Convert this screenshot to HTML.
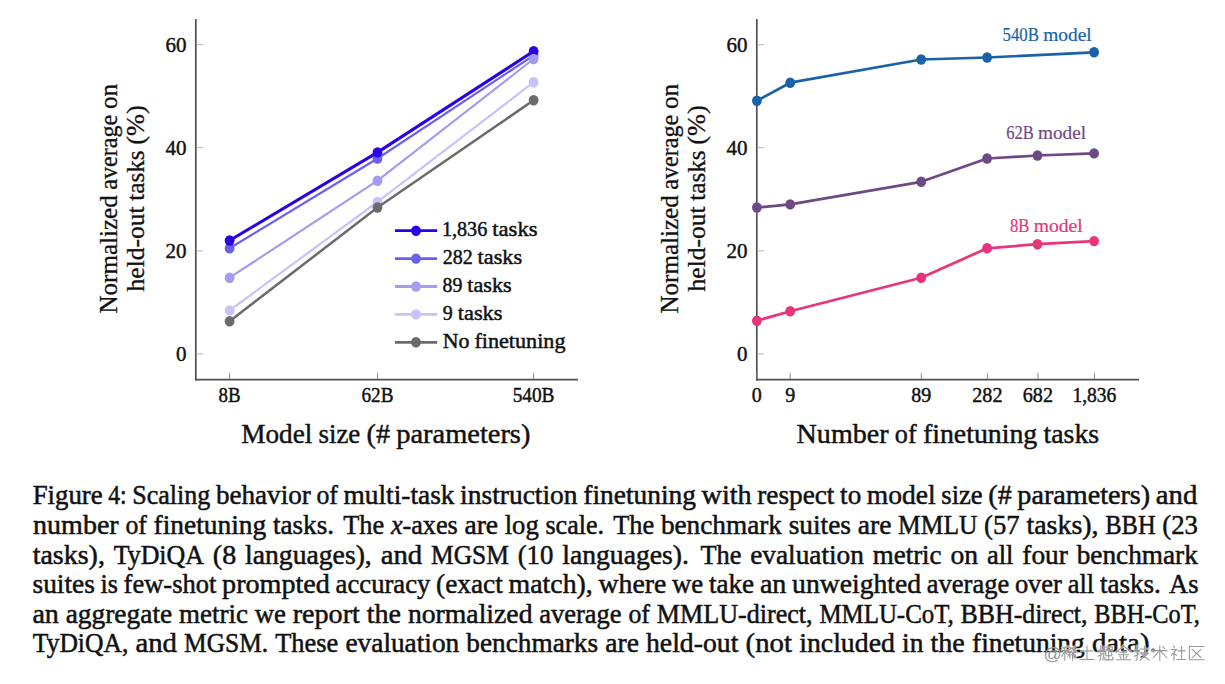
<!DOCTYPE html>
<html><head><meta charset="utf-8"><style>html,body{margin:0;padding:0;background:#fff;width:1225px;height:684px;overflow:hidden}svg{display:block}</style></head><body>
<svg width="1225" height="684" viewBox="0 0 1225 684" font-family="Liberation Serif, serif">
<rect width="1225" height="684" fill="#fff"/>
<line x1="195.8" y1="19" x2="195.8" y2="380.5" stroke="#505050" stroke-width="1.7"/>
<line x1="195" y1="379.7" x2="578" y2="379.7" stroke="#505050" stroke-width="1.7"/>
<line x1="196.5" y1="44.6" x2="203" y2="44.6" stroke="#b0b0b0" stroke-width="0.9"/>
<text x="186.5" y="51.7" font-size="21.50" text-anchor="end" fill="#111" stroke="#111" stroke-width="0.45" textLength="21.0" lengthAdjust="spacingAndGlyphs" >60</text>
<line x1="196.5" y1="147.7" x2="203" y2="147.7" stroke="#b0b0b0" stroke-width="0.9"/>
<text x="186.5" y="154.8" font-size="21.50" text-anchor="end" fill="#111" stroke="#111" stroke-width="0.45" textLength="21.0" lengthAdjust="spacingAndGlyphs" >40</text>
<line x1="196.5" y1="250.9" x2="203" y2="250.9" stroke="#b0b0b0" stroke-width="0.9"/>
<text x="186.5" y="258.0" font-size="21.50" text-anchor="end" fill="#111" stroke="#111" stroke-width="0.45" textLength="21.0" lengthAdjust="spacingAndGlyphs" >20</text>
<line x1="196.5" y1="354.0" x2="203" y2="354.0" stroke="#b0b0b0" stroke-width="0.9"/>
<text x="186.5" y="361.1" font-size="21.50" text-anchor="end" fill="#111" stroke="#111" stroke-width="0.45" textLength="10.5" lengthAdjust="spacingAndGlyphs" >0</text>
<line x1="229.6" y1="372.8" x2="229.6" y2="379" stroke="#808080" stroke-width="0.9"/>
<text x="229.6" y="401.6" font-size="21.50" text-anchor="middle" fill="#111" stroke="#111" stroke-width="0.45" textLength="22.0" lengthAdjust="spacingAndGlyphs" >8B</text>
<line x1="377.5" y1="372.8" x2="377.5" y2="379" stroke="#808080" stroke-width="0.9"/>
<text x="377.5" y="401.6" font-size="21.50" text-anchor="middle" fill="#111" stroke="#111" stroke-width="0.45" textLength="32.0" lengthAdjust="spacingAndGlyphs" >62B</text>
<line x1="533.6" y1="372.8" x2="533.6" y2="379" stroke="#808080" stroke-width="0.9"/>
<text x="533.6" y="401.6" font-size="21.50" text-anchor="middle" fill="#111" stroke="#111" stroke-width="0.45" textLength="41.8" lengthAdjust="spacingAndGlyphs" >540B</text>
<g transform="translate(116.8,0) rotate(-90)">
<text x="-313.5" y="0.0" font-size="24.40" fill="#111" stroke="#111" stroke-width="0.3" textLength="118.2" lengthAdjust="spacingAndGlyphs">Normalized</text>
<text x="-189.7" y="0.0" font-size="24.40" fill="#111" stroke="#111" stroke-width="0.3" textLength="75.0" lengthAdjust="spacingAndGlyphs">average</text>
<text x="-109.1" y="0.0" font-size="24.40" fill="#111" stroke="#111" stroke-width="0.3" textLength="25.1" lengthAdjust="spacingAndGlyphs">on</text>
</g>
<g transform="translate(144.0,0) rotate(-90)">
<text x="-291.4" y="0.0" font-size="24.40" fill="#111" stroke="#111" stroke-width="0.3" textLength="85.0" lengthAdjust="spacingAndGlyphs">held-out</text>
<text x="-200.8" y="0.0" font-size="24.40" fill="#111" stroke="#111" stroke-width="0.3" textLength="50.5" lengthAdjust="spacingAndGlyphs">tasks</text>
<text x="-144.7" y="0.0" font-size="24.40" fill="#111" stroke="#111" stroke-width="0.3" textLength="39.5" lengthAdjust="spacingAndGlyphs">(%)</text>
</g>
<path d="M229.6,248.3 L377.5,158.5 L533.6,55.4" fill="none" stroke="#6a60f0" stroke-width="2.2" stroke-linejoin="round"/>
<ellipse cx="229.6" cy="248.3" rx="4.9" ry="5.2" fill="#6a60f0"/>
<ellipse cx="377.5" cy="158.5" rx="4.9" ry="5.2" fill="#6a60f0"/>
<ellipse cx="533.6" cy="55.4" rx="4.9" ry="5.2" fill="#6a60f0"/>
<path d="M229.6,240.5 L377.5,152.4 L533.6,51.3" fill="none" stroke="#2a00e6" stroke-width="3.1" stroke-linejoin="round"/>
<ellipse cx="229.6" cy="240.5" rx="4.9" ry="5.2" fill="#2a00e6"/>
<ellipse cx="377.5" cy="152.4" rx="4.9" ry="5.2" fill="#2a00e6"/>
<ellipse cx="533.6" cy="51.3" rx="4.9" ry="5.2" fill="#2a00e6"/>
<path d="M229.6,277.7 L377.5,180.7 L533.6,59.0" fill="none" stroke="#a29cf5" stroke-width="2.2" stroke-linejoin="round"/>
<ellipse cx="229.6" cy="277.7" rx="4.9" ry="5.2" fill="#a29cf5"/>
<ellipse cx="377.5" cy="180.7" rx="4.9" ry="5.2" fill="#a29cf5"/>
<ellipse cx="533.6" cy="59.0" rx="4.9" ry="5.2" fill="#a29cf5"/>
<path d="M229.6,310.4 L377.5,201.9 L533.6,82.2" fill="none" stroke="#c6c2fa" stroke-width="2.2" stroke-linejoin="round"/>
<ellipse cx="229.6" cy="310.4" rx="4.9" ry="5.2" fill="#c6c2fa"/>
<ellipse cx="377.5" cy="201.9" rx="4.9" ry="5.2" fill="#c6c2fa"/>
<ellipse cx="533.6" cy="82.2" rx="4.9" ry="5.2" fill="#c6c2fa"/>
<path d="M229.6,321.2 L377.5,207.5 L533.6,100.3" fill="none" stroke="#6b6b6b" stroke-width="2.5" stroke-linejoin="round"/>
<ellipse cx="229.6" cy="321.2" rx="4.9" ry="5.2" fill="#6b6b6b"/>
<ellipse cx="377.5" cy="207.5" rx="4.9" ry="5.2" fill="#6b6b6b"/>
<ellipse cx="533.6" cy="100.3" rx="4.9" ry="5.2" fill="#6b6b6b"/>
<line x1="394.9" y1="230.7" x2="437.2" y2="230.7" stroke="#2a00e6" stroke-width="2.8"/>
<ellipse cx="416" cy="230.7" rx="4.9" ry="5.2" fill="#2a00e6"/>
<text x="441.9" y="236.0" font-size="20.50" fill="#111" stroke="#111" stroke-width="0.45" textLength="45.4" lengthAdjust="spacingAndGlyphs">1,836</text>
<text x="492.3" y="236.0" font-size="20.50" fill="#111" stroke="#111" stroke-width="0.45" textLength="45.2" lengthAdjust="spacingAndGlyphs">tasks</text>
<line x1="394.9" y1="258.6" x2="437.2" y2="258.6" stroke="#6a60f0" stroke-width="2.8"/>
<ellipse cx="416" cy="258.6" rx="4.9" ry="5.2" fill="#6a60f0"/>
<text x="442.8" y="263.9" font-size="20.50" fill="#111" stroke="#111" stroke-width="0.45" textLength="29.9" lengthAdjust="spacingAndGlyphs">282</text>
<text x="477.6" y="263.9" font-size="20.50" fill="#111" stroke="#111" stroke-width="0.45" textLength="44.6" lengthAdjust="spacingAndGlyphs">tasks</text>
<line x1="394.9" y1="286.5" x2="437.2" y2="286.5" stroke="#a29cf5" stroke-width="2.8"/>
<ellipse cx="416" cy="286.5" rx="4.9" ry="5.2" fill="#a29cf5"/>
<text x="442.5" y="291.8" font-size="20.50" fill="#111" stroke="#111" stroke-width="0.45" textLength="19.8" lengthAdjust="spacingAndGlyphs">89</text>
<text x="467.3" y="291.8" font-size="20.50" fill="#111" stroke="#111" stroke-width="0.45" textLength="44.4" lengthAdjust="spacingAndGlyphs">tasks</text>
<line x1="394.9" y1="314.4" x2="437.2" y2="314.4" stroke="#c6c2fa" stroke-width="2.8"/>
<ellipse cx="416" cy="314.4" rx="4.9" ry="5.2" fill="#c6c2fa"/>
<text x="442.7" y="319.7" font-size="20.50" fill="#111" stroke="#111" stroke-width="0.45" textLength="10.0" lengthAdjust="spacingAndGlyphs">9</text>
<text x="457.7" y="319.7" font-size="20.50" fill="#111" stroke="#111" stroke-width="0.45" textLength="44.9" lengthAdjust="spacingAndGlyphs">tasks</text>
<line x1="394.9" y1="342.3" x2="437.2" y2="342.3" stroke="#6b6b6b" stroke-width="2.8"/>
<ellipse cx="416" cy="342.3" rx="4.9" ry="5.2" fill="#6b6b6b"/>
<text x="442.8" y="347.6" font-size="20.50" fill="#111" stroke="#111" stroke-width="0.45" textLength="26.7" lengthAdjust="spacingAndGlyphs">No</text>
<text x="474.4" y="347.6" font-size="20.50" fill="#111" stroke="#111" stroke-width="0.45" textLength="91.1" lengthAdjust="spacingAndGlyphs">finetuning</text>
<text x="241.3" y="443.0" font-size="27.00" fill="#111" stroke="#111" stroke-width="0.45" textLength="71.0" lengthAdjust="spacingAndGlyphs">Model</text>
<text x="318.5" y="443.0" font-size="27.00" fill="#111" stroke="#111" stroke-width="0.45" textLength="41.8" lengthAdjust="spacingAndGlyphs">size</text>
<text x="366.5" y="443.0" font-size="27.00" fill="#111" stroke="#111" stroke-width="0.45" textLength="23.6" lengthAdjust="spacingAndGlyphs">(#</text>
<text x="396.3" y="443.0" font-size="27.00" fill="#111" stroke="#111" stroke-width="0.45" textLength="134.1" lengthAdjust="spacingAndGlyphs">parameters)</text>
<line x1="756.8" y1="19" x2="756.8" y2="380.5" stroke="#505050" stroke-width="1.7"/>
<line x1="756" y1="379.7" x2="1139" y2="379.7" stroke="#505050" stroke-width="1.7"/>
<line x1="757.5" y1="44.6" x2="764" y2="44.6" stroke="#b0b0b0" stroke-width="0.9"/>
<text x="747.5" y="51.7" font-size="21.50" text-anchor="end" fill="#111" stroke="#111" stroke-width="0.45" textLength="21.0" lengthAdjust="spacingAndGlyphs" >60</text>
<line x1="757.5" y1="147.7" x2="764" y2="147.7" stroke="#b0b0b0" stroke-width="0.9"/>
<text x="747.5" y="154.8" font-size="21.50" text-anchor="end" fill="#111" stroke="#111" stroke-width="0.45" textLength="21.0" lengthAdjust="spacingAndGlyphs" >40</text>
<line x1="757.5" y1="250.9" x2="764" y2="250.9" stroke="#b0b0b0" stroke-width="0.9"/>
<text x="747.5" y="258.0" font-size="21.50" text-anchor="end" fill="#111" stroke="#111" stroke-width="0.45" textLength="21.0" lengthAdjust="spacingAndGlyphs" >20</text>
<line x1="757.5" y1="354.0" x2="764" y2="354.0" stroke="#b0b0b0" stroke-width="0.9"/>
<text x="747.5" y="361.1" font-size="21.50" text-anchor="end" fill="#111" stroke="#111" stroke-width="0.45" textLength="10.5" lengthAdjust="spacingAndGlyphs" >0</text>
<line x1="756.8" y1="372.8" x2="756.8" y2="379" stroke="#808080" stroke-width="0.9"/>
<text x="756.8" y="401.6" font-size="21.50" text-anchor="middle" fill="#111" stroke="#111" stroke-width="0.45" textLength="10.0" lengthAdjust="spacingAndGlyphs" >0</text>
<line x1="790.2" y1="372.8" x2="790.2" y2="379" stroke="#808080" stroke-width="0.9"/>
<text x="790.2" y="401.6" font-size="21.50" text-anchor="middle" fill="#111" stroke="#111" stroke-width="0.45" textLength="10.0" lengthAdjust="spacingAndGlyphs" >9</text>
<line x1="921.3" y1="372.8" x2="921.3" y2="379" stroke="#808080" stroke-width="0.9"/>
<text x="921.3" y="401.6" font-size="21.50" text-anchor="middle" fill="#111" stroke="#111" stroke-width="0.45" textLength="20.0" lengthAdjust="spacingAndGlyphs" >89</text>
<line x1="987.4" y1="372.8" x2="987.4" y2="379" stroke="#808080" stroke-width="0.9"/>
<text x="987.4" y="401.6" font-size="21.50" text-anchor="middle" fill="#111" stroke="#111" stroke-width="0.45" textLength="30.2" lengthAdjust="spacingAndGlyphs" >282</text>
<line x1="1037.9" y1="372.8" x2="1037.9" y2="379" stroke="#808080" stroke-width="0.9"/>
<text x="1037.9" y="401.6" font-size="21.50" text-anchor="middle" fill="#111" stroke="#111" stroke-width="0.45" textLength="30.2" lengthAdjust="spacingAndGlyphs" >682</text>
<line x1="1094.4" y1="372.8" x2="1094.4" y2="379" stroke="#808080" stroke-width="0.9"/>
<text x="1094.4" y="401.6" font-size="21.50" text-anchor="middle" fill="#111" stroke="#111" stroke-width="0.45" textLength="44.0" lengthAdjust="spacingAndGlyphs" >1,836</text>
<g transform="translate(677.8,0) rotate(-90)">
<text x="-313.5" y="0.0" font-size="24.40" fill="#111" stroke="#111" stroke-width="0.3" textLength="118.2" lengthAdjust="spacingAndGlyphs">Normalized</text>
<text x="-189.7" y="0.0" font-size="24.40" fill="#111" stroke="#111" stroke-width="0.3" textLength="75.0" lengthAdjust="spacingAndGlyphs">average</text>
<text x="-109.1" y="0.0" font-size="24.40" fill="#111" stroke="#111" stroke-width="0.3" textLength="25.1" lengthAdjust="spacingAndGlyphs">on</text>
</g>
<g transform="translate(705.0,0) rotate(-90)">
<text x="-291.4" y="0.0" font-size="24.40" fill="#111" stroke="#111" stroke-width="0.3" textLength="85.0" lengthAdjust="spacingAndGlyphs">held-out</text>
<text x="-200.8" y="0.0" font-size="24.40" fill="#111" stroke="#111" stroke-width="0.3" textLength="50.5" lengthAdjust="spacingAndGlyphs">tasks</text>
<text x="-144.7" y="0.0" font-size="24.40" fill="#111" stroke="#111" stroke-width="0.3" textLength="39.5" lengthAdjust="spacingAndGlyphs">(%)</text>
</g>
<path d="M756.9,100.8 L790.2,82.7 L921.2,59.5 L987.1,57.5 L1094.1,52.3" fill="none" stroke="#1a62a8" stroke-width="2.7" stroke-linejoin="round"/>
<ellipse cx="756.9" cy="100.8" rx="4.9" ry="5.2" fill="#1a62a8"/>
<ellipse cx="790.2" cy="82.7" rx="4.9" ry="5.2" fill="#1a62a8"/>
<ellipse cx="921.2" cy="59.5" rx="4.9" ry="5.2" fill="#1a62a8"/>
<ellipse cx="987.1" cy="57.5" rx="4.9" ry="5.2" fill="#1a62a8"/>
<ellipse cx="1094.1" cy="52.3" rx="4.9" ry="5.2" fill="#1a62a8"/>
<path d="M756.9,207.5 L790.2,204.4 L921.2,181.8 L987.1,158.5 L1037.5,155.5 L1094.1,153.4" fill="none" stroke="#6e4a85" stroke-width="2.7" stroke-linejoin="round"/>
<ellipse cx="756.9" cy="207.5" rx="4.9" ry="5.2" fill="#6e4a85"/>
<ellipse cx="790.2" cy="204.4" rx="4.9" ry="5.2" fill="#6e4a85"/>
<ellipse cx="921.2" cy="181.8" rx="4.9" ry="5.2" fill="#6e4a85"/>
<ellipse cx="987.1" cy="158.5" rx="4.9" ry="5.2" fill="#6e4a85"/>
<ellipse cx="1037.5" cy="155.5" rx="4.9" ry="5.2" fill="#6e4a85"/>
<ellipse cx="1094.1" cy="153.4" rx="4.9" ry="5.2" fill="#6e4a85"/>
<path d="M756.9,320.7 L790.2,311.2 L921.2,277.7 L987.1,248.3 L1037.5,244.2 L1094.1,241.1" fill="none" stroke="#e8347a" stroke-width="2.7" stroke-linejoin="round"/>
<ellipse cx="756.9" cy="320.7" rx="4.9" ry="5.2" fill="#e8347a"/>
<ellipse cx="790.2" cy="311.2" rx="4.9" ry="5.2" fill="#e8347a"/>
<ellipse cx="921.2" cy="277.7" rx="4.9" ry="5.2" fill="#e8347a"/>
<ellipse cx="987.1" cy="248.3" rx="4.9" ry="5.2" fill="#e8347a"/>
<ellipse cx="1037.5" cy="244.2" rx="4.9" ry="5.2" fill="#e8347a"/>
<ellipse cx="1094.1" cy="241.1" rx="4.9" ry="5.2" fill="#e8347a"/>
<text x="1002.5" y="40.8" font-size="18.50" fill="#1a62a8" stroke="#1a62a8" stroke-width="0.2" textLength="36.4" lengthAdjust="spacingAndGlyphs">540B</text>
<text x="1043.2" y="40.8" font-size="18.50" fill="#1a62a8" stroke="#1a62a8" stroke-width="0.2" textLength="48.5" lengthAdjust="spacingAndGlyphs">model</text>
<text x="1006.2" y="138.6" font-size="18.50" fill="#6e4a85" stroke="#6e4a85" stroke-width="0.2" textLength="27.6" lengthAdjust="spacingAndGlyphs">62B</text>
<text x="1038.0" y="138.6" font-size="18.50" fill="#6e4a85" stroke="#6e4a85" stroke-width="0.2" textLength="48.1" lengthAdjust="spacingAndGlyphs">model</text>
<text x="1010.0" y="231.6" font-size="18.50" fill="#e8347a" stroke="#e8347a" stroke-width="0.2" textLength="19.4" lengthAdjust="spacingAndGlyphs">8B</text>
<text x="1033.7" y="231.6" font-size="18.50" fill="#e8347a" stroke="#e8347a" stroke-width="0.2" textLength="49.0" lengthAdjust="spacingAndGlyphs">model</text>
<text x="796.6" y="443.0" font-size="27.00" fill="#111" stroke="#111" stroke-width="0.45" textLength="92.0" lengthAdjust="spacingAndGlyphs">Number</text>
<text x="894.8" y="443.0" font-size="27.00" fill="#111" stroke="#111" stroke-width="0.45" textLength="21.8" lengthAdjust="spacingAndGlyphs">of</text>
<text x="922.9" y="443.0" font-size="27.00" fill="#111" stroke="#111" stroke-width="0.45" textLength="114.4" lengthAdjust="spacingAndGlyphs">finetuning</text>
<text x="1043.5" y="443.0" font-size="27.00" fill="#111" stroke="#111" stroke-width="0.45" textLength="55.7" lengthAdjust="spacingAndGlyphs">tasks</text>
<text x="32.7" y="504.2" font-size="26.5" fill="#111" stroke="#111" stroke-width="0.5" textLength="70.0" lengthAdjust="spacingAndGlyphs">Figure</text>
<text x="108.3" y="504.2" font-size="26.5" fill="#111" stroke="#111" stroke-width="0.5" textLength="18.4" lengthAdjust="spacingAndGlyphs">4:</text>
<text x="132.2" y="504.2" font-size="26.5" fill="#111" stroke="#111" stroke-width="0.5" textLength="78.0" lengthAdjust="spacingAndGlyphs">Scaling</text>
<text x="215.9" y="504.2" font-size="26.5" fill="#111" stroke="#111" stroke-width="0.5" textLength="94.9" lengthAdjust="spacingAndGlyphs">behavior</text>
<text x="316.4" y="504.2" font-size="26.5" fill="#111" stroke="#111" stroke-width="0.5" textLength="21.5" lengthAdjust="spacingAndGlyphs">of</text>
<text x="343.5" y="504.2" font-size="26.5" fill="#111" stroke="#111" stroke-width="0.5" textLength="111.0" lengthAdjust="spacingAndGlyphs">multi-task</text>
<text x="460.1" y="504.2" font-size="26.5" fill="#111" stroke="#111" stroke-width="0.5" textLength="117.5" lengthAdjust="spacingAndGlyphs">instruction</text>
<text x="583.3" y="504.2" font-size="26.5" fill="#111" stroke="#111" stroke-width="0.5" textLength="112.7" lengthAdjust="spacingAndGlyphs">finetuning</text>
<text x="701.6" y="504.2" font-size="26.5" fill="#111" stroke="#111" stroke-width="0.5" textLength="50.1" lengthAdjust="spacingAndGlyphs">with</text>
<text x="757.3" y="504.2" font-size="26.5" fill="#111" stroke="#111" stroke-width="0.5" textLength="77.1" lengthAdjust="spacingAndGlyphs">respect</text>
<text x="840.1" y="504.2" font-size="26.5" fill="#111" stroke="#111" stroke-width="0.5" textLength="21.1" lengthAdjust="spacingAndGlyphs">to</text>
<text x="866.8" y="504.2" font-size="26.5" fill="#111" stroke="#111" stroke-width="0.5" textLength="68.8" lengthAdjust="spacingAndGlyphs">model</text>
<text x="941.3" y="504.2" font-size="26.5" fill="#111" stroke="#111" stroke-width="0.5" textLength="41.4" lengthAdjust="spacingAndGlyphs">size</text>
<text x="988.3" y="504.2" font-size="26.5" fill="#111" stroke="#111" stroke-width="0.5" textLength="23.4" lengthAdjust="spacingAndGlyphs">(#</text>
<text x="1017.3" y="504.2" font-size="26.5" fill="#111" stroke="#111" stroke-width="0.5" textLength="132.9" lengthAdjust="spacingAndGlyphs">parameters)</text>
<text x="1155.8" y="504.2" font-size="26.5" fill="#111" stroke="#111" stroke-width="0.5" textLength="41.5" lengthAdjust="spacingAndGlyphs">and</text>
<text x="33.1" y="533.8" font-size="26.5" fill="#111" stroke="#111" stroke-width="0.5" textLength="85.6" lengthAdjust="spacingAndGlyphs">number</text>
<text x="125.4" y="533.8" font-size="26.5" fill="#111" stroke="#111" stroke-width="0.5" textLength="21.5" lengthAdjust="spacingAndGlyphs">of</text>
<text x="153.6" y="533.8" font-size="26.5" fill="#111" stroke="#111" stroke-width="0.5" textLength="112.7" lengthAdjust="spacingAndGlyphs">finetuning</text>
<text x="273.0" y="533.8" font-size="26.5" fill="#111" stroke="#111" stroke-width="0.5" textLength="61.0" lengthAdjust="spacingAndGlyphs">tasks.</text>
<text x="343.2" y="533.8" font-size="26.5" fill="#111" stroke="#111" stroke-width="0.5" textLength="41.0" lengthAdjust="spacingAndGlyphs">The</text>
<text x="390.9" y="533.8" font-size="26.5" fill="#111" stroke="#111" stroke-width="0.5" textLength="66.8" lengthAdjust="spacingAndGlyphs"><tspan font-style="italic">x</tspan>-axes</text>
<text x="464.4" y="533.8" font-size="26.5" fill="#111" stroke="#111" stroke-width="0.5" textLength="33.7" lengthAdjust="spacingAndGlyphs">are</text>
<text x="504.7" y="533.8" font-size="26.5" fill="#111" stroke="#111" stroke-width="0.5" textLength="34.1" lengthAdjust="spacingAndGlyphs">log</text>
<text x="545.5" y="533.8" font-size="26.5" fill="#111" stroke="#111" stroke-width="0.5" textLength="58.5" lengthAdjust="spacingAndGlyphs">scale.</text>
<text x="613.2" y="533.8" font-size="26.5" fill="#111" stroke="#111" stroke-width="0.5" textLength="41.0" lengthAdjust="spacingAndGlyphs">The</text>
<text x="660.9" y="533.8" font-size="26.5" fill="#111" stroke="#111" stroke-width="0.5" textLength="121.1" lengthAdjust="spacingAndGlyphs">benchmark</text>
<text x="788.7" y="533.8" font-size="26.5" fill="#111" stroke="#111" stroke-width="0.5" textLength="62.3" lengthAdjust="spacingAndGlyphs">suites</text>
<text x="857.7" y="533.8" font-size="26.5" fill="#111" stroke="#111" stroke-width="0.5" textLength="33.7" lengthAdjust="spacingAndGlyphs">are</text>
<text x="898.1" y="533.8" font-size="26.5" fill="#111" stroke="#111" stroke-width="0.5" textLength="79.3" lengthAdjust="spacingAndGlyphs">MMLU</text>
<text x="984.0" y="533.8" font-size="26.5" fill="#111" stroke="#111" stroke-width="0.5" textLength="35.7" lengthAdjust="spacingAndGlyphs">(57</text>
<text x="1026.4" y="533.8" font-size="26.5" fill="#111" stroke="#111" stroke-width="0.5" textLength="72.2" lengthAdjust="spacingAndGlyphs">tasks),</text>
<text x="1105.3" y="533.8" font-size="26.5" fill="#111" stroke="#111" stroke-width="0.5" textLength="50.3" lengthAdjust="spacingAndGlyphs">BBH</text>
<text x="1162.3" y="533.8" font-size="26.5" fill="#111" stroke="#111" stroke-width="0.5" textLength="35.7" lengthAdjust="spacingAndGlyphs">(23</text>
<text x="32.7" y="563.5" font-size="26.5" fill="#111" stroke="#111" stroke-width="0.5" textLength="72.2" lengthAdjust="spacingAndGlyphs">tasks),</text>
<text x="113.7" y="563.5" font-size="26.5" fill="#111" stroke="#111" stroke-width="0.5" textLength="90.3" lengthAdjust="spacingAndGlyphs">TyDiQA</text>
<text x="212.8" y="563.5" font-size="26.5" fill="#111" stroke="#111" stroke-width="0.5" textLength="23.4" lengthAdjust="spacingAndGlyphs">(8</text>
<text x="245.0" y="563.5" font-size="26.5" fill="#111" stroke="#111" stroke-width="0.5" textLength="126.8" lengthAdjust="spacingAndGlyphs">languages),</text>
<text x="380.7" y="563.5" font-size="26.5" fill="#111" stroke="#111" stroke-width="0.5" textLength="41.5" lengthAdjust="spacingAndGlyphs">and</text>
<text x="431.0" y="563.5" font-size="26.5" fill="#111" stroke="#111" stroke-width="0.5" textLength="77.9" lengthAdjust="spacingAndGlyphs">MGSM</text>
<text x="517.7" y="563.5" font-size="26.5" fill="#111" stroke="#111" stroke-width="0.5" textLength="35.7" lengthAdjust="spacingAndGlyphs">(10</text>
<text x="562.2" y="563.5" font-size="26.5" fill="#111" stroke="#111" stroke-width="0.5" textLength="126.8" lengthAdjust="spacingAndGlyphs">languages).</text>
<text x="700.4" y="563.5" font-size="26.5" fill="#111" stroke="#111" stroke-width="0.5" textLength="41.0" lengthAdjust="spacingAndGlyphs">The</text>
<text x="750.2" y="563.5" font-size="26.5" fill="#111" stroke="#111" stroke-width="0.5" textLength="113.7" lengthAdjust="spacingAndGlyphs">evaluation</text>
<text x="872.7" y="563.5" font-size="26.5" fill="#111" stroke="#111" stroke-width="0.5" textLength="68.9" lengthAdjust="spacingAndGlyphs">metric</text>
<text x="950.5" y="563.5" font-size="26.5" fill="#111" stroke="#111" stroke-width="0.5" textLength="27.6" lengthAdjust="spacingAndGlyphs">on</text>
<text x="987.0" y="563.5" font-size="26.5" fill="#111" stroke="#111" stroke-width="0.5" textLength="26.5" lengthAdjust="spacingAndGlyphs">all</text>
<text x="1022.3" y="563.5" font-size="26.5" fill="#111" stroke="#111" stroke-width="0.5" textLength="45.6" lengthAdjust="spacingAndGlyphs">four</text>
<text x="1076.7" y="563.5" font-size="26.5" fill="#111" stroke="#111" stroke-width="0.5" textLength="121.1" lengthAdjust="spacingAndGlyphs">benchmark</text>
<text x="32.5" y="593.1" font-size="26.5" fill="#111" stroke="#111" stroke-width="0.5" textLength="62.3" lengthAdjust="spacingAndGlyphs">suites</text>
<text x="100.5" y="593.1" font-size="26.5" fill="#111" stroke="#111" stroke-width="0.5" textLength="17.4" lengthAdjust="spacingAndGlyphs">is</text>
<text x="123.6" y="593.1" font-size="26.5" fill="#111" stroke="#111" stroke-width="0.5" textLength="92.8" lengthAdjust="spacingAndGlyphs">few-shot</text>
<text x="222.1" y="593.1" font-size="26.5" fill="#111" stroke="#111" stroke-width="0.5" textLength="107.8" lengthAdjust="spacingAndGlyphs">prompted</text>
<text x="335.6" y="593.1" font-size="26.5" fill="#111" stroke="#111" stroke-width="0.5" textLength="94.8" lengthAdjust="spacingAndGlyphs">accuracy</text>
<text x="436.1" y="593.1" font-size="26.5" fill="#111" stroke="#111" stroke-width="0.5" textLength="66.7" lengthAdjust="spacingAndGlyphs">(exact</text>
<text x="508.5" y="593.1" font-size="26.5" fill="#111" stroke="#111" stroke-width="0.5" textLength="84.3" lengthAdjust="spacingAndGlyphs">match),</text>
<text x="598.5" y="593.1" font-size="26.5" fill="#111" stroke="#111" stroke-width="0.5" textLength="67.8" lengthAdjust="spacingAndGlyphs">where</text>
<text x="672.0" y="593.1" font-size="26.5" fill="#111" stroke="#111" stroke-width="0.5" textLength="31.2" lengthAdjust="spacingAndGlyphs">we</text>
<text x="708.9" y="593.1" font-size="26.5" fill="#111" stroke="#111" stroke-width="0.5" textLength="45.3" lengthAdjust="spacingAndGlyphs">take</text>
<text x="759.9" y="593.1" font-size="26.5" fill="#111" stroke="#111" stroke-width="0.5" textLength="26.5" lengthAdjust="spacingAndGlyphs">an</text>
<text x="792.1" y="593.1" font-size="26.5" fill="#111" stroke="#111" stroke-width="0.5" textLength="129.0" lengthAdjust="spacingAndGlyphs">unweighted</text>
<text x="926.8" y="593.1" font-size="26.5" fill="#111" stroke="#111" stroke-width="0.5" textLength="82.4" lengthAdjust="spacingAndGlyphs">average</text>
<text x="1014.9" y="593.1" font-size="26.5" fill="#111" stroke="#111" stroke-width="0.5" textLength="47.0" lengthAdjust="spacingAndGlyphs">over</text>
<text x="1067.7" y="593.1" font-size="26.5" fill="#111" stroke="#111" stroke-width="0.5" textLength="26.5" lengthAdjust="spacingAndGlyphs">all</text>
<text x="1099.9" y="593.1" font-size="26.5" fill="#111" stroke="#111" stroke-width="0.5" textLength="61.0" lengthAdjust="spacingAndGlyphs">tasks.</text>
<text x="1169.1" y="593.1" font-size="26.5" fill="#111" stroke="#111" stroke-width="0.5" textLength="29.4" lengthAdjust="spacingAndGlyphs">As</text>
<text x="32.4" y="622.7" font-size="26.5" fill="#111" stroke="#111" stroke-width="0.5" textLength="26.5" lengthAdjust="spacingAndGlyphs">an</text>
<text x="65.7" y="622.7" font-size="26.5" fill="#111" stroke="#111" stroke-width="0.5" textLength="106.5" lengthAdjust="spacingAndGlyphs">aggregate</text>
<text x="179.0" y="622.7" font-size="26.5" fill="#111" stroke="#111" stroke-width="0.5" textLength="68.9" lengthAdjust="spacingAndGlyphs">metric</text>
<text x="254.8" y="622.7" font-size="26.5" fill="#111" stroke="#111" stroke-width="0.5" textLength="31.2" lengthAdjust="spacingAndGlyphs">we</text>
<text x="292.7" y="622.7" font-size="26.5" fill="#111" stroke="#111" stroke-width="0.5" textLength="67.2" lengthAdjust="spacingAndGlyphs">report</text>
<text x="366.7" y="622.7" font-size="26.5" fill="#111" stroke="#111" stroke-width="0.5" textLength="34.3" lengthAdjust="spacingAndGlyphs">the</text>
<text x="407.9" y="622.7" font-size="26.5" fill="#111" stroke="#111" stroke-width="0.5" textLength="124.6" lengthAdjust="spacingAndGlyphs">normalized</text>
<text x="539.2" y="622.7" font-size="26.5" fill="#111" stroke="#111" stroke-width="0.5" textLength="82.4" lengthAdjust="spacingAndGlyphs">average</text>
<text x="628.4" y="622.7" font-size="26.5" fill="#111" stroke="#111" stroke-width="0.5" textLength="21.5" lengthAdjust="spacingAndGlyphs">of</text>
<text x="656.8" y="622.7" font-size="26.5" fill="#111" stroke="#111" stroke-width="0.5" textLength="155.8" lengthAdjust="spacingAndGlyphs">MMLU-direct,</text>
<text x="819.4" y="622.7" font-size="26.5" fill="#111" stroke="#111" stroke-width="0.5" textLength="134.4" lengthAdjust="spacingAndGlyphs">MMLU-CoT,</text>
<text x="960.6" y="622.7" font-size="26.5" fill="#111" stroke="#111" stroke-width="0.5" textLength="126.9" lengthAdjust="spacingAndGlyphs">BBH-direct,</text>
<text x="1094.3" y="622.7" font-size="26.5" fill="#111" stroke="#111" stroke-width="0.5" textLength="105.5" lengthAdjust="spacingAndGlyphs">BBH-CoT,</text>
<text x="32.8" y="652.3" font-size="26.5" fill="#111" stroke="#111" stroke-width="0.5" textLength="95.5" lengthAdjust="spacingAndGlyphs">TyDiQA,</text>
<text x="135.4" y="652.3" font-size="26.5" fill="#111" stroke="#111" stroke-width="0.5" textLength="41.5" lengthAdjust="spacingAndGlyphs">and</text>
<text x="184.1" y="652.3" font-size="26.5" fill="#111" stroke="#111" stroke-width="0.5" textLength="84.0" lengthAdjust="spacingAndGlyphs">MGSM.</text>
<text x="275.2" y="652.3" font-size="26.5" fill="#111" stroke="#111" stroke-width="0.5" textLength="63.1" lengthAdjust="spacingAndGlyphs">These</text>
<text x="345.5" y="652.3" font-size="26.5" fill="#111" stroke="#111" stroke-width="0.5" textLength="113.7" lengthAdjust="spacingAndGlyphs">evaluation</text>
<text x="466.3" y="652.3" font-size="26.5" fill="#111" stroke="#111" stroke-width="0.5" textLength="131.8" lengthAdjust="spacingAndGlyphs">benchmarks</text>
<text x="605.2" y="652.3" font-size="26.5" fill="#111" stroke="#111" stroke-width="0.5" textLength="33.7" lengthAdjust="spacingAndGlyphs">are</text>
<text x="646.0" y="652.3" font-size="26.5" fill="#111" stroke="#111" stroke-width="0.5" textLength="92.4" lengthAdjust="spacingAndGlyphs">held-out</text>
<text x="745.6" y="652.3" font-size="26.5" fill="#111" stroke="#111" stroke-width="0.5" textLength="46.4" lengthAdjust="spacingAndGlyphs">(not</text>
<text x="799.2" y="652.3" font-size="26.5" fill="#111" stroke="#111" stroke-width="0.5" textLength="95.7" lengthAdjust="spacingAndGlyphs">included</text>
<text x="902.1" y="652.3" font-size="26.5" fill="#111" stroke="#111" stroke-width="0.5" textLength="21.3" lengthAdjust="spacingAndGlyphs">in</text>
<text x="930.5" y="652.3" font-size="26.5" fill="#111" stroke="#111" stroke-width="0.5" textLength="34.3" lengthAdjust="spacingAndGlyphs">the</text>
<text x="972.0" y="652.3" font-size="26.5" fill="#111" stroke="#111" stroke-width="0.5" textLength="112.7" lengthAdjust="spacingAndGlyphs">finetuning</text>
<text x="1091.9" y="652.3" font-size="26.5" fill="#111" stroke="#111" stroke-width="0.5" textLength="64.8" lengthAdjust="spacingAndGlyphs">data).</text>
<g fill="none" stroke-linecap="square">
<path transform="translate(1061.3,645.5) scale(1,0.98)" d="M1,2.5L6,1.5 M0.5,5L6,5 M3.5,1.5L3.5,15 M3.2,6L0.5,11 M3.8,6.5L6,9 M7,1L14,5 M14,1L7,5 M6.5,7L15,7 M10,5.5L6.5,11 M8.5,9.5L14,9.5L14,13 M8.5,9.5L8.5,13 M11.2,8L11.2,15" stroke="#ffffff" stroke-width="2.8" opacity="0.6"/>
<path transform="translate(1079.5,645.5) scale(1,0.98)" d="M2,5.5L13,5.5 M7.5,0.5L7.5,14 M0.5,14.3L14.5,14.3" stroke="#ffffff" stroke-width="2.8" opacity="0.6"/>
<path transform="translate(1097.7,645.5) scale(1,0.98)" d="M0.5,5L5,5 M3,0.5L3,14 L2,15 M0.5,11L5,8.5 M6.2,1.5L14.5,1.5L14.5,4.5L6.2,4.5 M6.2,1.5L6.2,9 L5.2,15 M8,7.5L8,10.5L14,10.5L14,7.5 M11,5.5L11,14.5 M7.2,12L7.2,14.7L15,14.7L15,12" stroke="#ffffff" stroke-width="2.8" opacity="0.6"/>
<path transform="translate(1115.9,645.5) scale(1,0.98)" d="M7.5,0.5L0.5,6.5 M7.5,0.5L15,6.5 M4,6.8L11,6.8 M2.5,9.5L12.5,9.5 M7.5,6.8L7.5,14 M4,11L5,13 M11,11L10,13 M0.5,14.5L14.5,14.5" stroke="#ffffff" stroke-width="2.8" opacity="0.6"/>
<path transform="translate(1134.1,645.5) scale(1,0.98)" d="M0.5,5L5,5 M3,0.5L3,14 L2,15 M0.5,11L5,8.5 M6,3.5L15,3.5 M10.5,0.5L10.5,7 M6.5,7.5L14,7.5 M7.5,8.5L15,15 M14,8L6,15" stroke="#ffffff" stroke-width="2.8" opacity="0.6"/>
<path transform="translate(1152.3,645.5) scale(1,0.98)" d="M0.5,5.2L14.5,5.2 M7.5,0.5L7.5,15 M7,5.5L1,12.5 M8,5.5L14.5,12.5 M10.5,1L12,3" stroke="#ffffff" stroke-width="2.8" opacity="0.6"/>
<path transform="translate(1170.5,645.5) scale(1,0.98)" d="M3,0.5L4,2 M0.5,4L6,4 L0.8,10 M3.5,6.5L3.5,15 M4.2,8.5L6,10 M7.5,5.5L14.5,5.5 M11,1L11,14 M6.5,14.2L15,14.2" stroke="#ffffff" stroke-width="2.8" opacity="0.6"/>
<path transform="translate(1188.7,645.5) scale(1,0.98)" d="M15,1L0.7,1L0.7,14.5L15.5,14.5 M3.5,4L12,12 M12,4L3.5,12.5" stroke="#ffffff" stroke-width="2.8" opacity="0.6"/>
<path transform="translate(1061.3,645.5) scale(1,0.98)" d="M1,2.5L6,1.5 M0.5,5L6,5 M3.5,1.5L3.5,15 M3.2,6L0.5,11 M3.8,6.5L6,9 M7,1L14,5 M14,1L7,5 M6.5,7L15,7 M10,5.5L6.5,11 M8.5,9.5L14,9.5L14,13 M8.5,9.5L8.5,13 M11.2,8L11.2,15" stroke="#999999" stroke-width="1.1" opacity="1.0"/>
<path transform="translate(1079.5,645.5) scale(1,0.98)" d="M2,5.5L13,5.5 M7.5,0.5L7.5,14 M0.5,14.3L14.5,14.3" stroke="#999999" stroke-width="1.1" opacity="1.0"/>
<path transform="translate(1097.7,645.5) scale(1,0.98)" d="M0.5,5L5,5 M3,0.5L3,14 L2,15 M0.5,11L5,8.5 M6.2,1.5L14.5,1.5L14.5,4.5L6.2,4.5 M6.2,1.5L6.2,9 L5.2,15 M8,7.5L8,10.5L14,10.5L14,7.5 M11,5.5L11,14.5 M7.2,12L7.2,14.7L15,14.7L15,12" stroke="#999999" stroke-width="1.1" opacity="1.0"/>
<path transform="translate(1115.9,645.5) scale(1,0.98)" d="M7.5,0.5L0.5,6.5 M7.5,0.5L15,6.5 M4,6.8L11,6.8 M2.5,9.5L12.5,9.5 M7.5,6.8L7.5,14 M4,11L5,13 M11,11L10,13 M0.5,14.5L14.5,14.5" stroke="#999999" stroke-width="1.1" opacity="1.0"/>
<path transform="translate(1134.1,645.5) scale(1,0.98)" d="M0.5,5L5,5 M3,0.5L3,14 L2,15 M0.5,11L5,8.5 M6,3.5L15,3.5 M10.5,0.5L10.5,7 M6.5,7.5L14,7.5 M7.5,8.5L15,15 M14,8L6,15" stroke="#999999" stroke-width="1.1" opacity="1.0"/>
<path transform="translate(1152.3,645.5) scale(1,0.98)" d="M0.5,5.2L14.5,5.2 M7.5,0.5L7.5,15 M7,5.5L1,12.5 M8,5.5L14.5,12.5 M10.5,1L12,3" stroke="#999999" stroke-width="1.1" opacity="1.0"/>
<path transform="translate(1170.5,645.5) scale(1,0.98)" d="M3,0.5L4,2 M0.5,4L6,4 L0.8,10 M3.5,6.5L3.5,15 M4.2,8.5L6,10 M7.5,5.5L14.5,5.5 M11,1L11,14 M6.5,14.2L15,14.2" stroke="#999999" stroke-width="1.1" opacity="1.0"/>
<path transform="translate(1188.7,645.5) scale(1,0.98)" d="M15,1L0.7,1L0.7,14.5L15.5,14.5 M3.5,4L12,12 M12,4L3.5,12.5" stroke="#999999" stroke-width="1.1" opacity="1.0"/>
</g>
<text x="1043.5" y="659.5" font-family="Liberation Sans, sans-serif" font-size="18" fill="#999999" stroke="#fff" stroke-width="0.0">@</text>
</svg>
</body></html>
